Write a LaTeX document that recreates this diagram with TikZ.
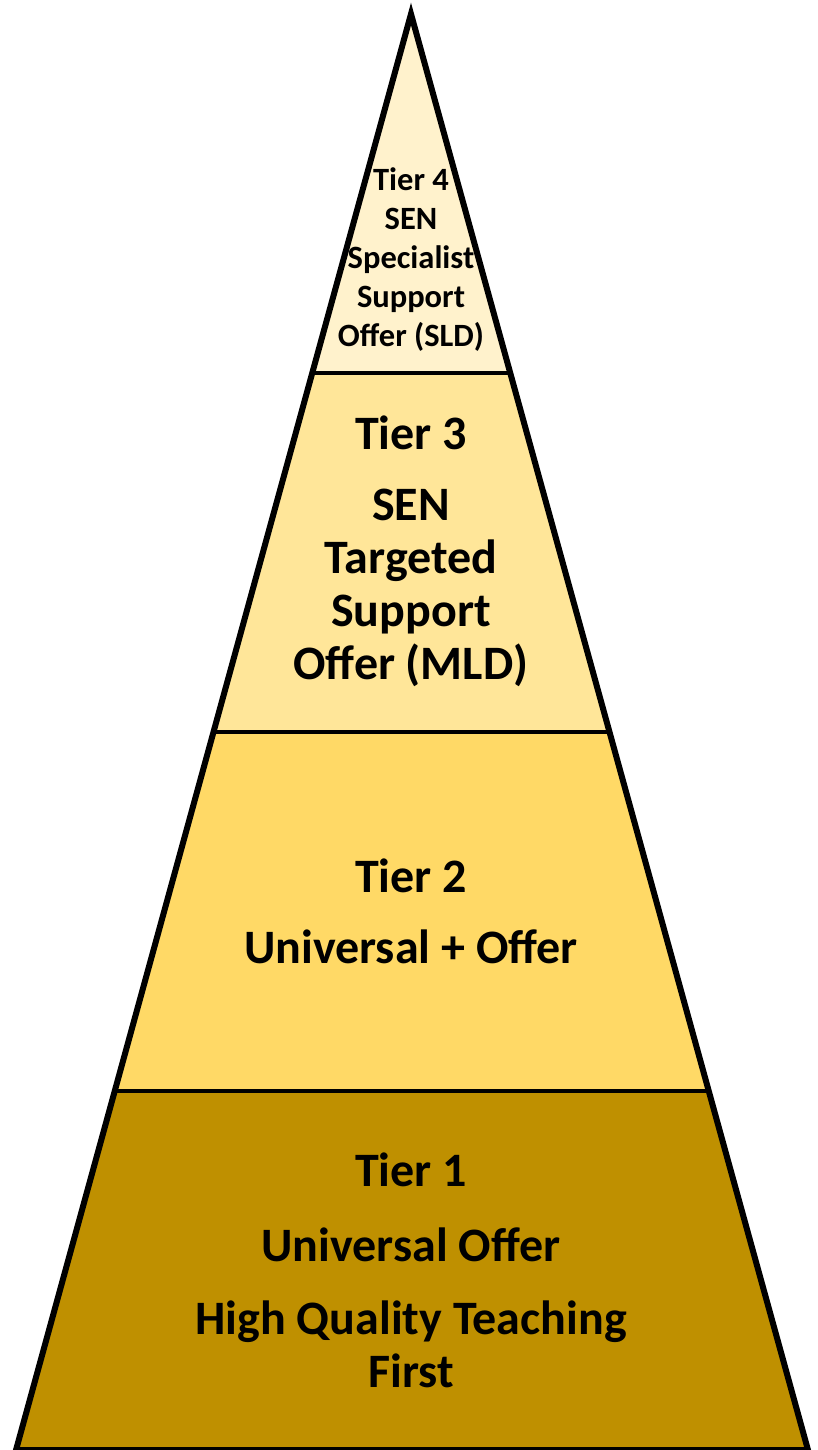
\documentclass[tikz,border=0pt]{standalone}
\usepackage{fontspec}
\setmainfont{Carlito}
\usetikzlibrary{calc}
\definecolor{tierfour}{HTML}{FFF2CC}
\definecolor{tierthree}{HTML}{FFE699}
\definecolor{tiertwo}{HTML}{FFD966}
\definecolor{tierone}{HTML}{BF9000}
\tikzset{
  outline/.style={line width=6pt,line join=miter},
  divider/.style={line width=4.5pt},
  tiertext/.style={align=center,inner sep=0pt,font=\bfseries\fontsize{48}{53}\selectfont},
  toptext/.style={align=center,inner sep=0pt,font=\bfseries\fontsize{32.5}{39}\selectfont},
}
\begin{document}
\begin{tikzpicture}[x=1pt,y=-1pt]
  \useasboundingbox (0,0) rectangle (818,1450);
  \coordinate (top) at (411,14);
  \coordinate (bl)  at (16,1450);
  \coordinate (br)  at (808,1450);
  \coordinate (l1) at ($(top)!0.25!(bl)$);
  \coordinate (r1) at ($(top)!0.25!(br)$);
  \coordinate (l2) at ($(top)!0.5!(bl)$);
  \coordinate (r2) at ($(top)!0.5!(br)$);
  \coordinate (l3) at ($(top)!0.75!(bl)$);
  \coordinate (r3) at ($(top)!0.75!(br)$);
  % tiers, top to bottom
  \fill[tierfour]  (top) -- (l1) -- (r1) -- cycle;
  \fill[tierthree] (l1) -- (l2) -- (r2) -- (r1) -- cycle;
  \fill[tiertwo]   (l2) -- (l3) -- (r3) -- (r2) -- cycle;
  \fill[tierone]   (l3) -- (bl) -- (br) -- (r3) -- cycle;
  \draw[divider] (l1) -- (r1);
  \draw[divider] (l2) -- (r2);
  \draw[divider] (l3) -- (r3);
  \draw[outline] (top) -- (bl) -- (br) -- cycle;
  % labels
  \node[toptext]  (t4) at (411,260)  {Tier 4\\SEN\\Specialist\\Support\\Offer (SLD)};
  \node[tiertext] (t3) at (411,551)  {Tier 3\\[18pt]SEN\\Targeted\\Support\\Offer (MLD)};
  \node[tiertext] (t2) at (411,911)  {Tier 2\\[18pt]Universal + Offer};
  \node[tiertext] (t1) at (411,1270) {Tier 1\\[22pt]Universal Offer\\[20pt]High Quality Teaching\\First};
\end{tikzpicture}
\end{document}
